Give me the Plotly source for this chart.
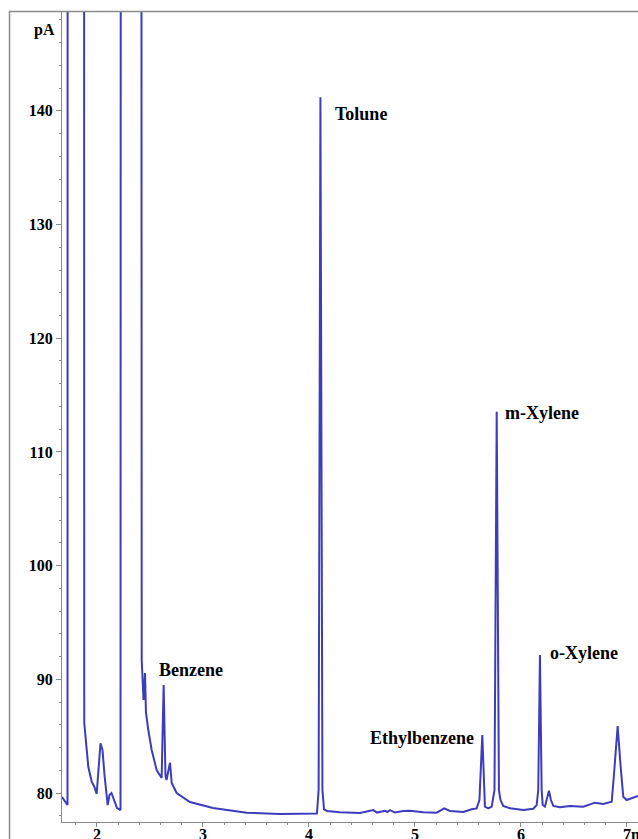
import plotly.graph_objects as go

# FID chromatogram: retention time (min) vs detector signal (pA)
retention_time = [
    1.670, 1.698, 1.722, 1.726, 1.873, 1.880, 1.903, 1.918, 1.950, 1.975,
    1.997, 2.014, 2.033, 2.052, 2.071, 2.101, 2.118, 2.137, 2.160, 2.189,
    2.222, 2.231, 2.410, 2.422, 2.439, 2.453, 2.462, 2.484, 2.516, 2.563,
    2.610, 2.629, 2.646, 2.656, 2.689, 2.705, 2.752, 2.877, 3.094, 3.412,
    3.726, 4.075, 4.091, 4.108, 4.127, 4.142, 4.170, 4.292, 4.481, 4.607,
    4.642, 4.717, 4.741, 4.764, 4.811, 4.890, 4.953, 5.078, 5.205, 5.276,
    5.330, 5.456, 5.535, 5.582, 5.608, 5.635, 5.660, 5.692, 5.724, 5.750,
    5.771, 5.792, 5.807, 5.833, 5.896, 6.022, 6.116, 6.148, 6.163, 6.179,
    6.195, 6.205, 6.226, 6.264, 6.283, 6.305, 6.368, 6.462, 6.588, 6.698,
    6.777, 6.856, 6.877, 6.912, 6.939, 6.965, 6.997, 7.060, 7.104,
]
signal_pA = [
    79.65, 79.30, 78.94, 400.0, 400.0, 86.16, 83.78, 82.31, 80.99, 80.55,
    79.91, 82.02, 84.37, 83.78, 81.58, 78.94, 79.82, 80.00, 79.38, 78.68,
    78.50, 400.0, 400.0, 91.70, 88.18, 90.55, 87.12, 85.54, 83.78, 82.02,
    81.32, 89.50, 81.58, 81.14, 82.66, 80.88, 80.00, 79.21, 78.68, 78.27,
    78.15, 78.20, 80.26, 141.20, 80.26, 78.57, 78.42, 78.30, 78.24, 78.50,
    78.28, 78.43, 78.33, 78.50, 78.28, 78.42, 78.43, 78.30, 78.27, 78.65,
    78.42, 78.33, 78.57, 78.65, 79.38, 85.10, 78.80, 78.65, 78.80, 80.26,
    113.54, 80.26, 79.38, 78.86, 78.65, 78.50, 78.62, 78.94, 80.26, 92.14,
    80.26, 78.94, 78.80, 80.20, 79.38, 78.86, 78.74, 78.86, 78.80, 79.15,
    79.03, 79.23, 81.58, 85.89, 82.46, 79.67, 79.38, 79.62, 79.74,
]

x_tick_values = [2, 3, 4, 5, 6, 7]
x_tick_labels = ["2", "3", "4", "5", "6", "7min"]
y_tick_values = [80, 90, 100, 110, 120, 130, 140]
y_tick_labels = ["80", "90", "100", "110", "120", "130", "140"]

W, H = 638, 839
ML, MT, MB = 62, 11, 17
plot_w = W - ML
plot_h = H - MT - MB

def px_to_paper_x(px):
    return (px - ML) / plot_w

def px_to_paper_y(py):
    return (H - MB - py) / plot_h

label_font = dict(family="Liberation Serif", size=18, color="black", weight="bold")
tick_font = dict(family="Liberation Serif", size=16, color="black", weight="bold")
axis_grey = "#8a8a8a"

fig = go.Figure()
fig.add_trace(go.Scatter(
    x=retention_time, y=signal_pA, mode="lines",
    line=dict(color="#3c3cbc", width=2),
    hoverinfo="skip", showlegend=False,
))

# compound labels
fig.add_annotation(x=2.566, y=90.8, text="Benzene", xanchor="left", yanchor="middle",
                   showarrow=False, font=label_font)
fig.add_annotation(x=4.226, y=139.7, text="Tolune", xanchor="left", yanchor="middle",
                   showarrow=False, font=label_font)
fig.add_annotation(x=5.575, y=84.84, text="Ethylbenzene", xanchor="right", yanchor="middle",
                   showarrow=False, font=label_font)
fig.add_annotation(x=5.83, y=113.4, text="m-Xylene", xanchor="left", yanchor="middle",
                   showarrow=False, font=label_font)
fig.add_annotation(x=6.255, y=92.3, text="o-Xylene", xanchor="left", yanchor="middle",
                   showarrow=False, font=label_font)

# y unit label
fig.add_annotation(xref="paper", yref="paper", x=px_to_paper_x(57), y=px_to_paper_y(30),
                   text="pA", xanchor="right", yanchor="middle", showarrow=False, font=tick_font)

# x tick labels sit tight under the axis; the last one carries the unit
for val, txt in zip(x_tick_values, x_tick_labels):
    last = txt.endswith("min")
    fig.add_annotation(x=val, xref="x", yref="paper", y=px_to_paper_y(834),
                       text=txt, xanchor="left" if last else "center", xshift=-5 if last else 0,
                       yanchor="middle", showarrow=False, font=tick_font, borderpad=0)

# outer frame (left and top edges)
fig.add_shape(type="line", xref="paper", yref="paper",
              x0=px_to_paper_x(9.5), x1=px_to_paper_x(9.5), y0=px_to_paper_y(11), y1=px_to_paper_y(845),
              line=dict(color=axis_grey, width=1.5))
fig.add_shape(type="line", xref="paper", yref="paper",
              x0=px_to_paper_x(9), x1=px_to_paper_x(645), y0=px_to_paper_y(11.5), y1=px_to_paper_y(11.5),
              line=dict(color=axis_grey, width=1.5))

fig.update_layout(
    width=W, height=H,
    margin=dict(l=ML, r=0, t=MT, b=MB, pad=0, autoexpand=False),
    paper_bgcolor="white", plot_bgcolor="white",
    xaxis=dict(
        range=[1.670, 7.104], showgrid=False, zeroline=False, automargin=False,
        showline=True, linecolor=axis_grey, linewidth=1.2,
        ticks="outside", ticklen=4, tickcolor=axis_grey, tickwidth=1,
        tickvals=x_tick_values, showticklabels=False,
        minor=dict(dtick=0.2, tick0=0, ticks="outside", ticklen=2, tickcolor=axis_grey, showgrid=False),
    ),
    yaxis=dict(
        range=[77.45, 148.78], showgrid=False, zeroline=False, automargin=False,
        showline=True, linecolor=axis_grey, linewidth=1.2,
        ticks="outside", ticklen=5, tickcolor=axis_grey, tickwidth=1,
        tickvals=y_tick_values, ticktext=y_tick_labels, tickfont=tick_font,
        minor=dict(dtick=2, tick0=0, ticks="outside", ticklen=2, tickcolor=axis_grey, showgrid=False),
    ),
)

fig.write_html("out.html")
